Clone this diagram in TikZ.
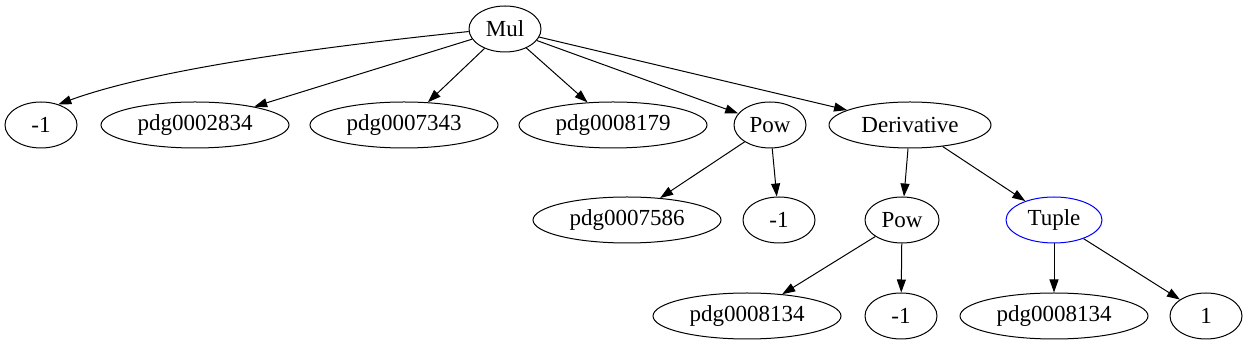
\documentclass[tikz,border=0pt]{standalone}
\usepackage{fontspec}
\setmainfont{Liberation Serif}
\usetikzlibrary{arrows.meta,shapes.geometric}

\begin{document}
\begin{tikzpicture}[
    x=1pt, y=1pt,
    font=\fontsize{23}{26}\selectfont,
    >={Triangle[length=13pt, width=9pt]},
    term/.style={draw, ellipse, line width=1pt, inner sep=0pt, minimum height=46pt},
    small/.style={term, minimum width=72pt},
    wide/.style={term, minimum width=188pt},
    edge/.style={->, line width=1pt},
]
    \useasboundingbox (0,0) rectangle (1249,347);

    % Root
    \node[small] (mul) at (505, 318) {Mul};

    % First level
    \node[small] (neg1) at (41, 222) {-1};
    \node[wide] (pdgA) at (195, 222) {pdg0002834};
    \node[wide] (pdgB) at (404, 222) {pdg0007343};
    \node[wide] (pdgC) at (613, 222) {pdg0008179};
    \node[small] (powA) at (770, 222) {Pow};
    \node[term, minimum width=162pt] (deriv) at (910, 222) {Derivative};

    % Second level
    \node[wide] (pdgD) at (627, 127) {pdg0007586};
    \node[small] (neg2) at (779, 127) {-1};
    \node[term, minimum width=74pt] (powB) at (902, 127) {Pow};
    \node[term, draw=blue, minimum width=96pt] (tuple) at (1054, 127) {Tuple};

    % Third level
    \node[wide] (pdgE) at (747, 31) {pdg0008134};
    \node[small] (neg3) at (901, 31) {-1};
    \node[wide] (pdgF) at (1054, 31) {pdg0008134};
    \node[small] (one) at (1206, 31) {1};

    % Edges
    \draw[edge] (mul.184) to[out=186, in=20, looseness=0.7] (neg1.50);
    \draw[edge] (mul) -- (pdgA);
    \draw[edge] (mul) -- (pdgB);
    \draw[edge] (mul) -- (pdgC);
    \draw[edge] (mul) -- (powA);
    \draw[edge] (mul) -- (deriv);

    \draw[edge] (powA) -- (pdgD);
    \draw[edge] (powA) -- (neg2);
    \draw[edge] (deriv) -- (powB);
    \draw[edge] (deriv) -- (tuple);

    \draw[edge] (powB) -- (pdgE);
    \draw[edge] (powB) -- (neg3);
    \draw[edge] (tuple) -- (pdgF);
    \draw[edge] (tuple) -- (one);
\end{tikzpicture}
\end{document}
